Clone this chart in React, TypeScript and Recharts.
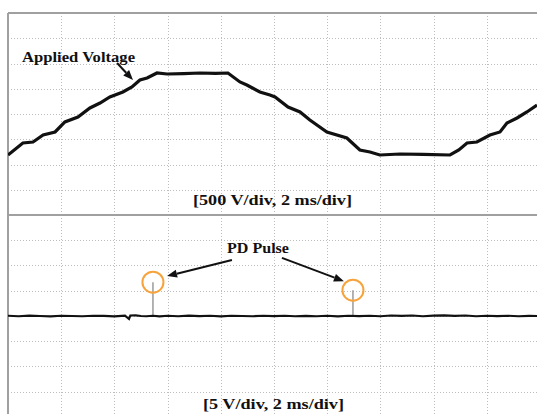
import React from "react";
import { LineChart, Line, XAxis, YAxis, CartesianGrid, ReferenceLine, ReferenceDot } from "recharts";

// Time axis (ms), 2 ms/div
const timeTicks = [2, 4, 6, 8, 10, 12, 14, 16, 18];
const timeDomain = [0, 19.89];

// Applied voltage (V), 500 V/div
const voltTime = [0, 0.56, 0.94, 1.32, 1.77, 2.14, 2.63, 3.08, 3.46, 3.83, 4.32, 4.66, 4.96, 5.23, 5.6, 5.98, 6.6, 7.22, 7.8, 8.27, 8.72, 8.98, 9.47, 9.85, 10.04, 10.53, 10.98, 11.35, 11.99, 12.74, 13.23, 13.61, 13.98, 14.74, 15.6, 16.62, 16.95, 17.26, 17.63, 18.12, 18.5, 18.76, 19.14, 19.51, 19.89];
const voltValues = [-812, -574, -554, -416, -356, -158, -59, 119, 218, 337, 436, 535, 673, 713, 812, 792, 800, 812, 805, 812, 634, 574, 436, 376, 337, 139, 40, -119, -356, -475, -713, -752, -812, -792, -800, -812, -713, -574, -554, -416, -356, -178, -79, 40, 178];
const voltTicks = [-1500, -1000, -500, 0, 500, 1000, 1500];
const voltDomain = [-2000, 2000];

// PD channel (V), 5 V/div
const pdTime = [0, 0.4, 0.8, 1.2, 1.6, 2.0, 2.4, 2.8, 3.2, 3.6, 4.0, 4.4, 4.55, 4.6, 4.8, 5.0, 5.2, 5.45, 5.7, 6.0, 6.4, 6.8, 7.2, 7.6, 8.0, 8.4, 8.8, 9.2, 9.6, 10.0, 10.4, 10.8, 11.2, 11.6, 12.0, 12.4, 12.8, 13.2, 13.6, 14.0, 14.4, 14.8, 15.2, 15.6, 16.0, 16.4, 16.8, 17.2, 17.6, 18.0, 18.4, 18.8, 19.2, 19.6, 19.89];
const pdValues = [0.05, -0.05, 0.08, 0, -0.08, 0.05, 0, -0.05, 0.05, 0.03, -0.08, 0.05, -0.6, 0.1, 0.12, 0, -0.05, 0.05, -0.08, 0.05, -0.05, 0.08, -0.03, 0.05, -0.08, 0.05, 0, -0.05, 0.05, -0.03, 0.05, -0.05, 0.03, -0.05, 0.05, -0.08, 0.05, -0.03, 0.05, -0.05, 0.1, 0.03, 0.1, -0.05, 0.08, 0.12, 0.03, 0.1, -0.05, 0.05, -0.03, 0.05, -0.05, 0.03, 0];
const pdTicks = [-15, -10, -5, 0, 5, 10, 15];
const pdDomain = [-19.41, 20];

// PD pulses: time (ms) and peak (V)
const pulseTimes = [5.45, 12.97];
const pulsePeaks = [6.7, 5.1];

const voltData = voltTime.map((t, i) => ({ t, v: voltValues[i] }));
const pdData = pdTime.map((t, i) => ({ t, v: pdValues[i] }));

const BORDER = "#a0a0a0";
const GRID = "#bdbdbd";
const ORANGE = "#F7A33B";

// grid positions follow the same linear mapping as the axes
const vGen = (props: any) => {
  const o = props?.offset;
  if (!o) return [];
  const [d0, d1] = timeDomain;
  return timeTicks.map((t) => Math.round(o.left + ((t - d0) / (d1 - d0)) * o.width) + 0.5);
};
const hGen = (ticks: number[], domain: number[]) => (props: any) => {
  const o = props?.offset;
  if (!o) return [];
  const [d0, d1] = domain;
  return ticks.map((v) => Math.round(o.top + ((d1 - v) / (d1 - d0)) * o.height) + 0.5);
};

const Arrow = (props: any) => {
  const { x1, y1, x2, y2 } = props;
  const dx = x2 - x1;
  const dy = y2 - y1;
  const len = Math.sqrt(dx * dx + dy * dy) || 1;
  const ux = dx / len;
  const uy = dy / len;
  const hl = 10;
  const hw = 4;
  const bx = x2 - ux * hl;
  const by = y2 - uy * hl;
  const pts = `${x2},${y2} ${bx - uy * hw},${by + ux * hw} ${bx + uy * hw},${by - ux * hw}`;
  return (
    <g>
      <line x1={x1} y1={y1} x2={bx} y2={by} stroke="#111" strokeWidth={2} />
      <polygon points={pts} fill="#111" />
    </g>
  );
};

const textStyle: React.CSSProperties = {
  fontFamily: "'Liberation Serif', 'Times New Roman', serif",
  fontWeight: "bold",
  fontSize: 15,
};

export default function App() {
  return (
    <div style={{ position: "absolute", left: 0, top: 0, width: 537, height: 414, background: "#fff", overflow: "hidden" }}>
      <div style={{ position: "absolute", left: 0, top: 0 }}>
        <LineChart width={537} height={215} data={voltData} margin={{ top: 13, right: 0, left: 8, bottom: 0 }}>
          <CartesianGrid stroke={GRID} strokeDasharray="1 2" strokeWidth={1} verticalCoordinatesGenerator={vGen} horizontalCoordinatesGenerator={hGen(voltTicks, voltDomain)} />
          <XAxis dataKey="t" type="number" domain={timeDomain} ticks={timeTicks} hide allowDataOverflow />
          <YAxis type="number" domain={voltDomain} ticks={voltTicks} hide allowDataOverflow />
          <ReferenceLine y={2000} stroke={BORDER} strokeWidth={2} />
          <ReferenceLine y={-2000} stroke={BORDER} strokeWidth={2} />
          <ReferenceLine x={0} stroke={BORDER} strokeWidth={2} />
          <Line dataKey="v" stroke="#111" strokeWidth={3.2} dot={false} isAnimationActive={false} type="linear" />
          <ReferenceLine segment={[{ x: 4.1, y: 1010 }, { x: 4.7, y: 673 }]} shape={Arrow} ifOverflow="visible" />
        </LineChart>
      </div>
      <div style={{ position: "absolute", left: 0, top: 215 }}>
        <LineChart width={537} height={199} data={pdData} margin={{ top: 0, right: 0, left: 8, bottom: 0 }}>
          <CartesianGrid stroke={GRID} strokeDasharray="1 2" strokeWidth={1} verticalCoordinatesGenerator={vGen} horizontalCoordinatesGenerator={hGen(pdTicks, pdDomain)} />
          <XAxis dataKey="t" type="number" domain={timeDomain} ticks={timeTicks} hide allowDataOverflow />
          <YAxis type="number" domain={pdDomain} ticks={pdTicks} hide allowDataOverflow />
          <ReferenceLine y={20} stroke={BORDER} strokeWidth={2} />
          <ReferenceLine x={0} stroke={BORDER} strokeWidth={2} />
          {pulseTimes.map((t, i) => (
            <Line
              key={"p" + i}
              data={[{ t, v: 0 }, { t, v: pulsePeaks[i] }]}
              dataKey="v"
              stroke="#9a9a9a"
              strokeWidth={1.5}
              dot={false}
              isAnimationActive={false}
              type="linear"
            />
          ))}
          <Line dataKey="v" stroke="#111" strokeWidth={2.2} dot={false} isAnimationActive={false} type="linear" />
          {pulseTimes.map((t, i) => (
            <ReferenceDot key={"c" + i} x={t} y={pulsePeaks[i]} r={10.5} fill="none" stroke={ORANGE} strokeWidth={2} />
          ))}
          <ReferenceLine segment={[{ x: 8.42, y: 11.1 }, { x: 5.98, y: 7.9 }]} shape={Arrow} ifOverflow="visible" />
          <ReferenceLine segment={[{ x: 10.3, y: 11.5 }, { x: 12.63, y: 6.9 }]} shape={Arrow} ifOverflow="visible" />
        </LineChart>
      </div>
      <svg width={537} height={414} style={{ position: "absolute", left: 0, top: 0, pointerEvents: "none" }}>
        <text x={22} y={62} style={textStyle} textLength={113} lengthAdjust="spacingAndGlyphs" fill="#111">Applied Voltage</text>
        <text x={193} y={205} style={textStyle} textLength={159} lengthAdjust="spacingAndGlyphs" fill="#111">[500 V/div, 2 ms/div]</text>
        <text x={227} y={253} style={textStyle} textLength={62} lengthAdjust="spacingAndGlyphs" fill="#111">PD Pulse</text>
        <text x={203} y={409} style={textStyle} textLength={141} lengthAdjust="spacingAndGlyphs" fill="#111">[5 V/div, 2 ms/div]</text>
      </svg>
    </div>
  );
}
